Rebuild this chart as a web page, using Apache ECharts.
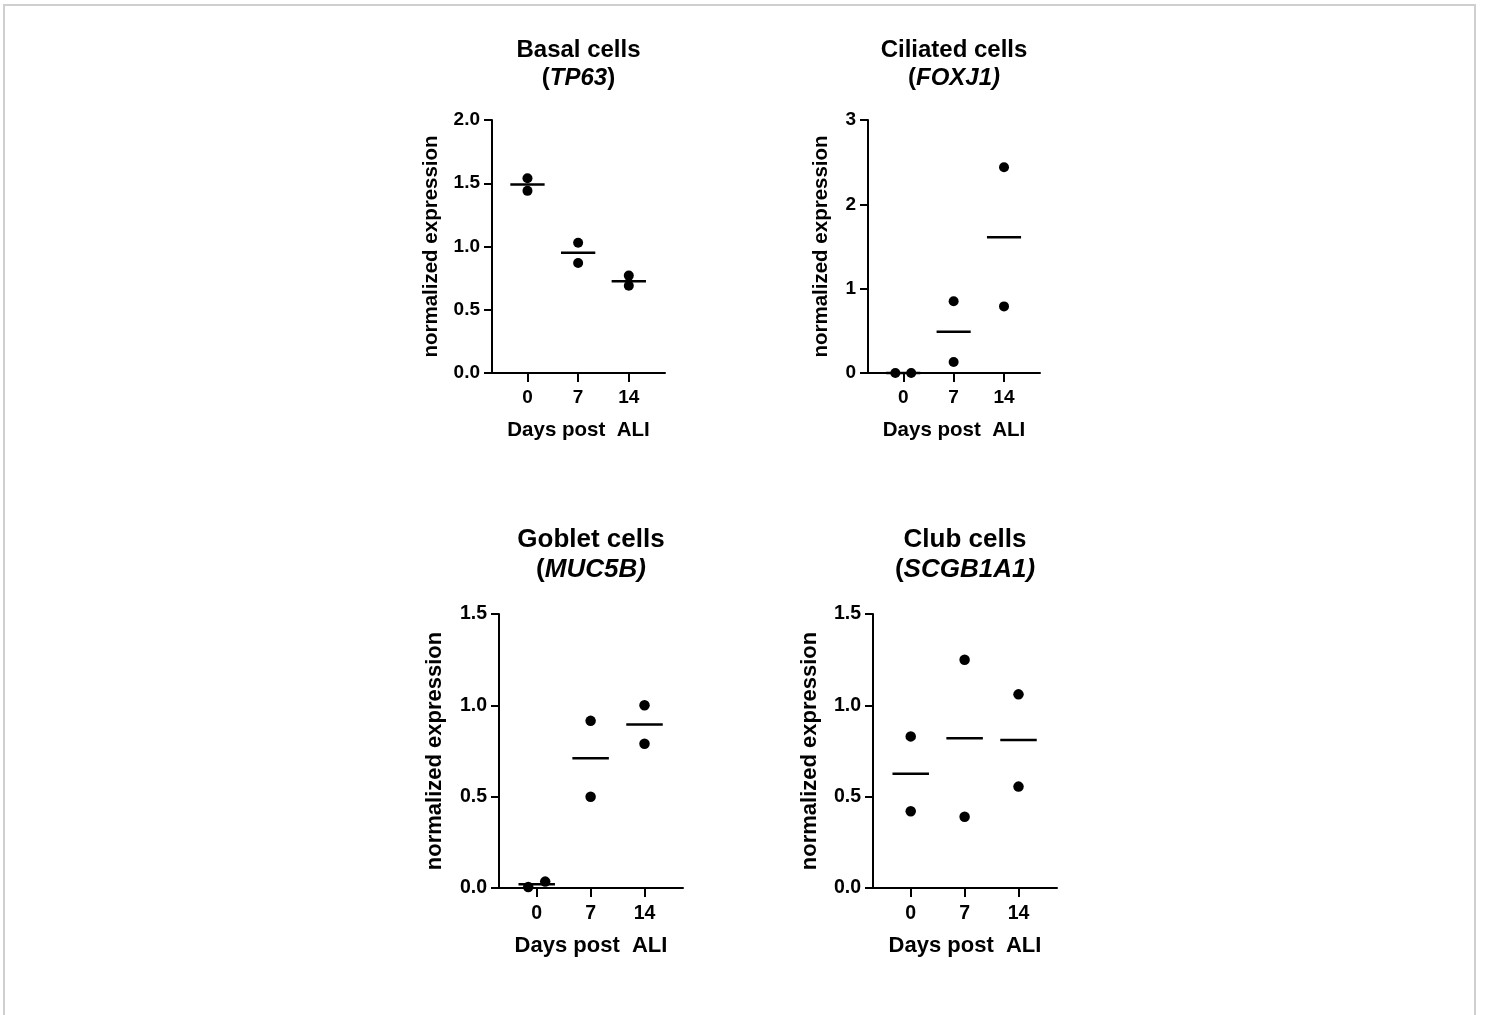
<!DOCTYPE html>
<html>
<head>
<meta charset="utf-8">
<script src="https://cdn.jsdelivr.net/npm/echarts@6/dist/echarts.min.js"></script>
<style>
html, body { margin: 0; padding: 0; background: #fff; overflow: hidden; }
#frame { position: absolute; left: 3px; top: 4px; width: 1469px; height: 1100px; border: 2px solid #cfcfcf; border-bottom: none; }
#chart { position: absolute; left: 0; top: 0; width: 1485px; height: 1015px; }
</style>
</head>
<body>
<div id="frame"></div>
<div id="chart"></div>
<script>
// ---- data ----
const days = [0, 7, 14];
const dayLabels = ['0', '7', '14'];

const basalTP63 = [[1.54, 1.44], [1.03, 0.87], [0.77, 0.69]];
const basalMean = [1.49, 0.95, 0.725];

const ciliatedFOXJ1 = [[0.0, 0.0], [0.85, 0.13], [2.44, 0.79]];
const ciliatedMean = [0.0, 0.49, 1.61];

const gobletMUC5B = [[0.005, 0.035], [0.915, 0.50], [1.0, 0.79]];
const gobletMean = [0.02, 0.71, 0.895];

const clubSCGB1A1 = [[0.83, 0.42], [1.25, 0.39], [1.06, 0.555]];
const clubMean = [0.625, 0.82, 0.81];

const yTicksBasal = [0, 0.5, 1.0, 1.5, 2.0];
const yTicksCiliated = [0, 1, 2, 3];
const yTicksGoblet = [0, 0.5, 1.0, 1.5];
const yTicksClub = [0, 0.5, 1.0, 1.5];

// ---- layout / style ----
const FONT = '"Liberation Sans", Arial, Helvetica, sans-serif';
const styleTop = { title: 24, titleLH: 28, name: 20.5, tick: 19, dot: 10, xMargin: 15 };
const styleBot = { title: 26, titleLH: 30, name: 22, tick: 19.5, dot: 10.5, xMargin: 16 };
const panels = [
  { name: 'Basal cells', gene: '({i|TP63})', values: basalTP63, means: basalMean, ticks: yTicksBasal, decimals: 1,
    grid: { left: 492, top: 120, width: 173, height: 253 }, nameGap: 50, spread: [false, false, false], titleTop: 36, s: styleTop },
  { name: 'Ciliated cells', gene: '({i|FOXJ1)}', values: ciliatedFOXJ1, means: ciliatedMean, ticks: yTicksCiliated, decimals: 0,
    grid: { left: 868, top: 120, width: 172, height: 253 }, nameGap: 36, spread: [true, false, false], titleTop: 36, s: styleTop },
  { name: 'Goblet cells', gene: '({i|MUC5B)}', values: gobletMUC5B, means: gobletMean, ticks: yTicksGoblet, decimals: 1,
    grid: { left: 499, top: 614, width: 184, height: 274 }, nameGap: 53, spread: [true, false, false], titleTop: 525, s: styleBot },
  { name: 'Club cells', gene: '({i|SCGB1A1)}', values: clubSCGB1A1, means: clubMean, ticks: yTicksClub, decimals: 1,
    grid: { left: 873, top: 614, width: 184, height: 274 }, nameGap: 52, spread: [false, false, false], titleTop: 525, s: styleBot }
];
const JITTER = 1.1;     // days, for overlapping points
const HALF_LINE = 2.37; // days, half width of mean bar

const option = {
  backgroundColor: 'transparent',
  animation: false,
  title: [], grid: [], xAxis: [], yAxis: [], series: []
};

panels.forEach((p, k) => {
  const g = p.grid, s = p.s;
  option.title.push({
    text: '{b|' + p.name + '}\n' + p.gene,
    left: g.left + g.width / 2,
    top: p.titleTop,
    textAlign: 'center',
    padding: 0,
    textStyle: {
      fontFamily: FONT, fontSize: s.title, fontWeight: 'bold', color: '#000', lineHeight: s.titleLH,
      rich: {
        b: { fontFamily: FONT, fontSize: s.title, fontWeight: 'bold', color: '#000', lineHeight: s.titleLH },
        i: { fontFamily: FONT, fontSize: s.title, fontWeight: 'bold', fontStyle: 'italic', color: '#000', lineHeight: s.titleLH }
      }
    }
  });
  option.grid.push({ left: g.left, top: g.top, width: g.width, height: g.height, containLabel: false });
  option.xAxis.push({
    gridIndex: k, type: 'value', min: -4.9, max: 19,
    name: 'Days post  ALI', nameLocation: 'middle', nameGap: 47,
    nameTextStyle: { fontFamily: FONT, fontSize: s.name, fontWeight: 'bold', color: '#000' },
    axisLine: { show: true, onZero: false, lineStyle: { color: '#000', width: 2 } },
    axisTick: { show: true, customValues: days, length: 9, lineStyle: { color: '#000', width: 2 } },
    axisLabel: { customValues: days, margin: s.xMargin, fontFamily: FONT, fontSize: s.tick, fontWeight: 'bold', color: '#000',
      formatter: v => dayLabels[days.indexOf(v)] },
    splitLine: { show: false }
  });
  const ymax = p.ticks[p.ticks.length - 1];
  option.yAxis.push({
    gridIndex: k, type: 'value', min: 0, max: ymax, interval: p.ticks[1] - p.ticks[0],
    name: 'normalized expression', nameLocation: 'middle', nameRotate: 90, nameGap: p.nameGap,
    nameTextStyle: { fontFamily: FONT, fontSize: s.name, fontWeight: 'bold', color: '#000' },
    axisLine: { show: true, onZero: false, lineStyle: { color: '#000', width: 2 } },
    axisTick: { show: true, length: 8, lineStyle: { color: '#000', width: 2 } },
    axisLabel: { margin: 12, fontFamily: FONT, fontSize: s.tick, fontWeight: 'bold', color: '#000',
      formatter: v => v.toFixed(p.decimals) },
    splitLine: { show: false }
  });
  const pts = [];
  p.values.forEach((vals, i) => {
    vals.forEach((v, j) => {
      const off = p.spread[i] ? (j === 0 ? -JITTER : JITTER) : 0;
      pts.push([days[i] + off, v]);
    });
  });
  option.series.push({
    type: 'custom', xAxisIndex: k, yAxisIndex: k, clip: false,
    data: days.map((d, i) => [d, p.means[i]]),
    renderItem: (params, api) => {
      const x = api.value(0), y = api.value(1);
      const a = api.coord([x - HALF_LINE, y]);
      const b = api.coord([x + HALF_LINE, y]);
      return { type: 'line', shape: { x1: a[0], y1: a[1], x2: b[0], y2: b[1] }, style: { stroke: '#000', lineWidth: 2.5 } };
    },
    z: 3
  });
  option.series.push({
    type: 'scatter', xAxisIndex: k, yAxisIndex: k, clip: false,
    symbol: 'circle', symbolSize: s.dot,
    itemStyle: { color: '#000', opacity: 1 },
    data: pts, z: 4
  });
});

const chart = echarts.init(document.getElementById('chart'), null, { renderer: 'canvas' });
chart.setOption(option);
</script>
</body>
</html>
